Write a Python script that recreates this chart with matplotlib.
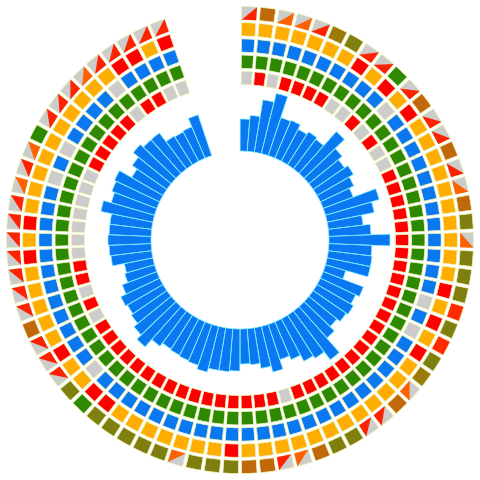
import numpy as np
import matplotlib
matplotlib.use("Agg")
import matplotlib.pyplot as plt

N_SLOTS = 78          # slots around the circle, the last ones stay empty (gap at top)
HOLE = 89             # radius of the empty centre
RING_START = 155.5
RING_STEP = 16.2
CELL_H = 13.2

# bar lengths, measured outward from the hole
bar_values = [32, 36, 53, 62, 40, 41, 36, 39, 37, 56, 43, 38, 42, 37, 32, 56, 48, 35, 42, 61,
              43, 44, 44, 21, 43, 39, 42, 40, 36, 42, 61, 51, 48, 41, 37, 47, 41, 36, 35, 42,
              43, 43, 47, 43, 42, 41, 40, 44, 54, 48, 43, 41, 43, 37, 31, 29, 41, 42, 43, 42,
              42, 53, 45, 48, 50, 36, 42, 49, 45, 45, 34, 33, 34, 43]

# inner ring: r = red, g = grey
ring1 = ["g", "r", "g", "r", "r", "r", "r", "g", "g", "r", "g", "r", "g", "g", "r", "r", "r", "r", "r", "r",
         "r", "r", "r", "r", "r", "r", "r", "r", "r", "r", "r", "r", "r", "r", "r", "g", "r", "r", "r", "r",
         "r", "r", "r", "r", "r", "r", "r", "r", "r", "r", "r", "r", "g", "r", "g", "r", "r", "g", "g", "g",
         "g", "g", "g", "g", "r", "r", "r", "r", "r", "g", "r", "r", "g", "g"]

ring2 = ["G"] * 74

# blue ring with a few grey cells
ring3 = ["B", "B", "B", "B", "B", "B", "B", "B", "B", "B", "g", "B", "B", "B", "B", "B", "B", "B", "B", "B",
         "B", "B", "B", "g", "B", "g", "B", "B", "B", "B", "B", "B", "B", "B", "B", "B", "B", "B", "B", "B",
         "B", "B", "B", "B", "B", "B", "B", "B", "B", "g", "B", "B", "B", "B", "B", "B", "B", "B", "B", "B",
         "B", "B", "g", "B", "g", "B", "B", "B", "B", "g", "B", "B", "B", "B"]

# orange ring with red cells
ring4 = ["O", "O", "O", "O", "O", "O", "O", "r", "O", "r", "O", "r", "O", "O", "O", "O", "O", "O", "O", "O",
         "O", "O", "r", "O", "r", "O", "r", "O", "O", "O", "O", "O", "O", "O", "O", "O", "O", "O", "O", "r",
         "O", "O", "O", "O", "O", "O", "O", "r", "r", "O", "O", "r", "O", "O", "O", "O", "O", "r", "O", "r",
         "O", "O", "O", "O", "O", "O", "O", "O", "O", "O", "r", "r", "O", "r"]

# outer ring: tr / to = grey cell with red / orange triangle
ring5 = ["tr", "br", "to", "to", "tr", "mb", "ol", "tr", "tr", "G", "tr", "br", "tr", "tr", "br", "tr", "to", "br", "ol", "to",
         "ol", "ol", "ol", "rd", "ol", "rd", "ol", "mb", "to", "br", "tr", "tr", "ol", "ol", "br", "to", "tr", "br", "br", "ol",
         "ol", "ol", "to", "ol", "ol", "ol", "ol", "ol", "G", "ol", "tr", "tr", "tr", "br", "tr", "tr", "tr", "tr", "tr", "tr",
         "tr", "to", "tr", "to", "G", "tr", "tr", "tr", "to", "tr", "tr", "tr", "tr", "tr"]

palette = {
    "r": "#ff0000", "g": "#cccccc", "G": "#2d8a00", "B": "#0a78f0", "O": "#ffad00",
    "br": "#c0680a", "mb": "#9c7a0a", "ol": "#7f7f10", "rd": "#ff2a00",
    "tr": "#cccccc", "to": "#cccccc",
}
tri_colors = {"tr": "#ff2200", "to": "#ff6000"}

BAR_BLUE = "#0a78f0"

fig = plt.figure(figsize=(4.8, 4.8), dpi=100)
ax = fig.add_axes([0, 0, 1, 1], projection="polar")
ax.set_theta_zero_location("N")
ax.set_theta_direction(-1)
ax.set_ylim(0, 240)
ax.axis("off")

step = 2 * np.pi / N_SLOTS
theta = (np.arange(len(bar_values)) + 0.5) * step

# radial bars in the middle
ax.bar(theta, bar_values, width=step * 0.97, bottom=HOLE, color=BAR_BLUE,
       edgecolor="#7ff0ff", linewidth=0.5)

# rings of cells
cell_w = step * 0.82
for i, ring in enumerate([ring1, ring2, ring3, ring4, ring5]):
    r0 = RING_START + i * RING_STEP
    ax.bar(theta, CELL_H, width=cell_w, bottom=r0,
           color=[palette[c] for c in ring], edgecolor="#eef3b0", linewidth=0.5)
    for t, c in zip(theta, ring):
        if c in tri_colors:
            ta, tb = t - cell_w / 2, t + cell_w / 2
            ax.fill([ta, tb, tb], [r0, r0, r0 + CELL_H], color=tri_colors[c], lw=0)

fig.savefig("out.png", dpi=100, facecolor="white")
